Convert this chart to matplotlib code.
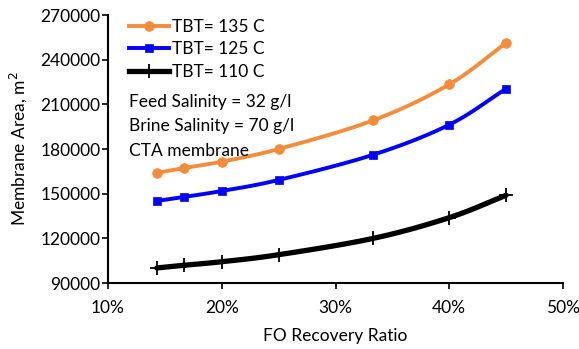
import numpy as np
import matplotlib.pyplot as plt
from matplotlib.ticker import FuncFormatter

plt.rcParams['font.family'] = ['Lato', 'DejaVu Sans']

# ── data ───────────────────────────────────────────────────────────
recovery = [1 / 7, 1 / 6, 0.20, 0.25, 1 / 3, 0.40, 0.45]
area_135 = [163900, 167200, 171500, 180000, 199300, 223400, 251200]
area_125 = [145100, 147800, 151800, 159200, 176200, 196300, 220500]
area_110 = [100100, 101900, 104300, 109000, 120000, 133900, 148900]

series = [
    (area_135, '#F38D3C', 'o', 7, 2.8, 'TBT= 135 C'),
    (area_125, '#0000FF', 's', 6, 2.8, 'TBT= 125 C'),
    (area_110, '#000000', '+', 10, 3.8, 'TBT= 110 C'),
]

FS = 12.5


def smooth(x, y, n=20):
    # Catmull-Rom curve through the points, like Excel's smoothed line
    x = np.asarray(x, float)
    y = np.asarray(y, float)
    px = np.r_[2 * x[0] - x[1], x, 2 * x[-1] - x[-2]]
    py = np.r_[2 * y[0] - y[1], y, 2 * y[-1] - y[-2]]
    t = np.linspace(0, 1, n)[:, None]
    xs, ys = [], []
    for i in range(1, len(px) - 2):
        for p, out in ((px, xs), (py, ys)):
            p0, p1, p2, p3 = p[i - 1], p[i], p[i + 1], p[i + 2]
            seg = 0.5 * (2 * p1 + (-p0 + p2) * t
                         + (2 * p0 - 5 * p1 + 4 * p2 - p3) * t ** 2
                         + (-p0 + 3 * p1 - 3 * p2 + p3) * t ** 3)
            out.append(seg.ravel())
    return np.concatenate(xs), np.concatenate(ys)


fig = plt.figure(figsize=(5.79, 3.49), dpi=100)
ax = fig.add_axes([108 / 579, 1 - 283 / 349, 455 / 579, 268 / 349])

for y, col, mk, ms, lw, label in series:
    sx, sy = smooth(recovery, y)
    ax.plot(sx, sy, color=col, linewidth=lw, solid_capstyle='round')
    ax.plot(recovery, y, linestyle='none', marker=mk, color=col,
            markersize=ms, markeredgewidth=1.3 if mk == '+' else 0.5)
    ax.plot([], [], color=col, linewidth=lw, marker=mk, markersize=ms,
            markeredgewidth=1.3 if mk == '+' else 0.5, label=label)

ax.set_xlim(0.10, 0.50)
ax.set_ylim(90000, 270000)
ax.set_xticks(np.arange(0.10, 0.51, 0.10))
ax.set_yticks(np.arange(90000, 270001, 30000))
ax.xaxis.set_major_formatter(FuncFormatter(lambda v, p: f'{v * 100:.0f}%'))
ax.yaxis.set_major_formatter(FuncFormatter(lambda v, p: f'{v:.0f}'))
ax.tick_params(direction='out', length=4, width=1.2, labelsize=FS,
               colors='black')
ax.tick_params(axis='x', pad=8)
ax.tick_params(axis='y', pad=1.5)
for s in ('top', 'right'):
    ax.spines[s].set_visible(False)
for s in ('left', 'bottom'):
    ax.spines[s].set_linewidth(1.5)

ax.set_xlabel('FO Recovery Ratio', fontsize=FS, labelpad=9)
ax.set_ylabel('Membrane Area, m$^2$', fontsize=FS, labelpad=8)

ax.legend(loc='upper left', bbox_to_anchor=(0.02, 1.03), frameon=False,
          fontsize=FS, handlelength=2.3, handletextpad=0.15,
          labelspacing=0.36, borderaxespad=0.3)

ax.text(0.046, 0.706, 'Feed Salinity = 32 g/l\nBrine Salinity = 70 g/l\n'
        'CTA membrane', transform=ax.transAxes, fontsize=FS,
        va='top', ha='left', linespacing=1.65)

fig.savefig('out.png', dpi=100)
